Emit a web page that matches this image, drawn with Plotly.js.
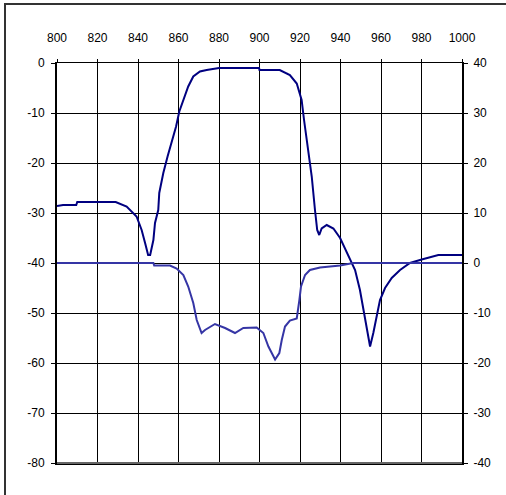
<!DOCTYPE html>
<html>
<head>
<meta charset="utf-8">
<script src="https://cdn.plot.ly/plotly-3.0.1.min.js"></script>
<style>
html,body{margin:0;padding:0;background:#fff;}
#chart{width:506px;height:495px;}
</style>
</head>
<body>
<div id="chart"></div>
<script>
// Dark trace (left axis, dB)
const freqA = [800, 803, 809.5, 810, 829, 834.4, 839.3, 841.8, 843.5, 845, 846, 847.6, 848.4, 850, 850.5, 852.5, 854.6, 857.1, 858.8, 860.4, 862.4, 864.8, 867.3, 870.6, 873.9, 880, 899.8, 900, 910, 915, 918.4, 920.8, 922, 924.1, 925.8, 927.4, 928.5, 929.5, 930.7, 933.2, 936.5, 939.8, 943.1, 945.5, 947.2, 949.6, 952.1, 953.4, 954.6, 956.2, 957.9, 959.5, 962, 965.3, 969.4, 974.3, 980.1, 988.3, 1000];
const valA  = [-28.6, -28.4, -28.4, -27.8, -27.8, -28.7, -30.7, -33.4, -36, -38.4, -38.4, -35.4, -32, -29.4, -26, -22, -18.7, -15.4, -12.7, -9.7, -7.4, -4.7, -2.7, -1.7, -1.4, -1.0, -1.0, -1.4, -1.4, -2.4, -4.1, -7.4, -11.4, -17.4, -22.7, -29.4, -33.4, -34.4, -33.1, -32.4, -33.1, -35, -38, -40, -41.4, -45.4, -50.7, -54, -56.7, -54, -50.7, -47.4, -45, -43, -41.4, -40, -39.3, -38.4, -38.4];

// Light trace (right axis, dB)
const freqB = [800, 847.6, 848, 855.8, 859.1, 862.4, 864.8, 867.3, 869, 871.4, 873.1, 878, 883, 887.9, 892, 898.6, 901.9, 904.4, 907.7, 909.8, 911, 912.6, 915, 918.4, 919.7, 920.5, 922.5, 924.9, 929.9, 939.8, 946.3, 1000];
const valB  = [0, 0, -0.5, -0.5, -1.1, -2.4, -4.7, -8, -11.4, -14, -13.4, -12.2, -13, -14, -13, -12.9, -14, -16.7, -19.3, -18, -15.4, -12.7, -11.5, -11.1, -7.4, -4.7, -2.4, -1.4, -0.9, -0.5, 0, 0];

const xTicks = [800, 820, 840, 860, 880, 900, 920, 940, 960, 980, 1000];
const yLeftTicks = [0, -10, -20, -30, -40, -50, -60, -70, -80];
const yRightTicks = [40, 30, 20, 10, 0, -10, -20, -30, -40];

const font = {family: '"Liberation Sans", Arial, sans-serif', size: 12, color: '#000'};

const traces = [
  {x: freqA, y: valA, type: 'scatter', mode: 'lines', yaxis: 'y',
   line: {color: '#000080', width: 2}, hoverinfo: 'skip'},
  {x: freqB, y: valB, type: 'scatter', mode: 'lines', yaxis: 'y2',
   line: {color: '#3535a5', width: 2}, hoverinfo: 'skip'}
];

const layout = {
  width: 506, height: 495,
  margin: {l: 57, r: 44, t: 63, b: 32},
  paper_bgcolor: '#fff', plot_bgcolor: '#fff',
  showlegend: false,
  font: font,
  xaxis: {
    side: 'top', range: [800, 1000], tickvals: xTicks, ticktext: xTicks.map(String),
    showgrid: true, gridcolor: '#000', gridwidth: 1,
    showline: true, linecolor: '#000', linewidth: 1.5, mirror: true,
    ticks: 'outside', ticklen: 3, tickcolor: '#000', zeroline: false,
    ticklabelstandoff: 12,
    tickfont: font, fixedrange: true
  },
  yaxis: {
    range: [-80, 0], tickvals: yLeftTicks, ticktext: yLeftTicks.map(String),
    showgrid: true, gridcolor: '#000', gridwidth: 1,
    showline: true, linecolor: '#000', linewidth: 2,
    ticks: 'outside', ticklen: 4, tickcolor: '#000', zeroline: false,
    ticklabelstandoff: 4,
    tickfont: font, fixedrange: true
  },
  yaxis2: {
    overlaying: 'y', side: 'right', range: [-40, 40],
    tickvals: yRightTicks, ticktext: yRightTicks.map(String),
    showgrid: false, showline: true, linecolor: '#000', linewidth: 2,
    ticks: 'outside', ticklen: 4, tickcolor: '#000', zeroline: false,
    ticklabelstandoff: 3,
    tickfont: font, fixedrange: true
  },
  shapes: [
    {type: 'rect', xref: 'paper', yref: 'paper',
     x0: -52/405, x1: 470/405, y0: -60/400, y1: 459/400,
     line: {color: '#333', width: 2}, fillcolor: 'rgba(0,0,0,0)'},
    {type: 'line', xref: 'paper', yref: 'paper', x0: 0, x1: 1, y0: 0, y1: 0,
     line: {color: '#666', width: 2}}
  ]
};

Plotly.newPlot('chart', traces, layout, {staticPlot: true, displayModeBar: false});
</script>
</body>
</html>
